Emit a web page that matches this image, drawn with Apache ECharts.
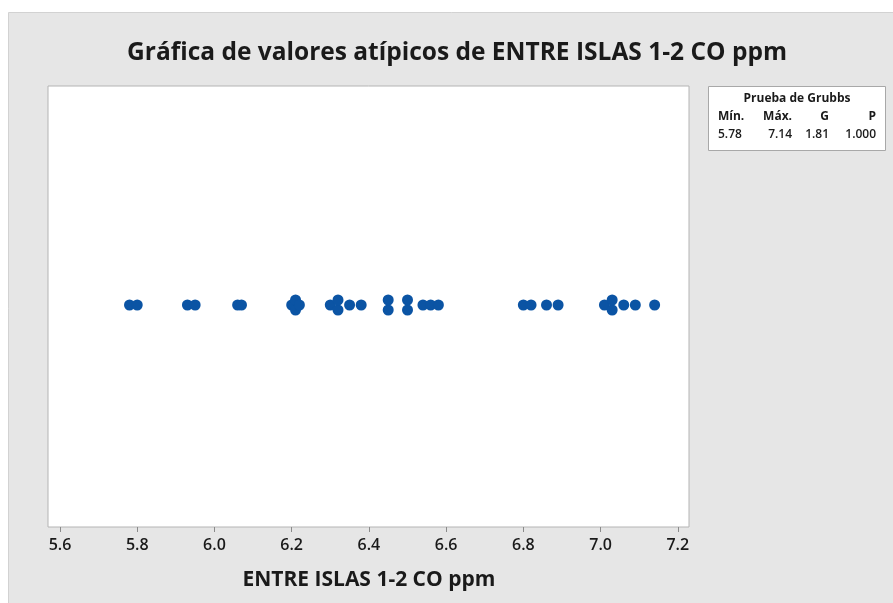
<!DOCTYPE html>
<html>
<head>
<meta charset="utf-8">
<script src="https://cdn.jsdelivr.net/npm/echarts@6/dist/echarts.min.js"></script>
<style>
html,body{margin:0;padding:0;background:#ffffff;}
#chart{width:893px;height:603px;}
</style>
</head>
<body>
<div id="chart"></div>
<script>
// ---- data ----
const chartTitle = 'Gráfica de valores atípicos de ENTRE ISLAS 1-2 CO ppm';
const axisName = 'ENTRE ISLAS 1-2 CO ppm';
const values = [5.78, 5.80, 5.93, 5.95, 6.06, 6.07, 6.20, 6.21, 6.21, 6.22,
  6.30, 6.32, 6.32, 6.35, 6.38, 6.45, 6.45, 6.50, 6.50, 6.54, 6.56, 6.58,
  6.80, 6.82, 6.86, 6.89, 7.01, 7.03, 7.03, 7.06, 7.09, 7.14];
const xTicks = [5.6, 5.8, 6.0, 6.2, 6.4, 6.6, 6.8, 7.0, 7.2];
const grubbsTitle = 'Prueba de Grubbs';
const grubbsHeaders = ['Mín.', 'Máx.', 'G', 'P'];
const grubbsValues = ['5.78', '7.14', '1.81', '1.000'];

// stack tied values vertically
const counts = {};
values.forEach(v => { counts[v] = (counts[v] || 0) + 1; });
const seen = {};
const points = values.map(v => {
  const n = counts[v];
  const k = seen[v] || 0;
  seen[v] = k + 1;
  return [v, k - (n - 1) / 2];
});

const FONT = '"Open Sans", "Noto Sans", sans-serif';
const chart = echarts.init(document.getElementById('chart'));

// legend table columns: [x, align]
const cols = [[718, 'left'], [792, 'right'], [829, 'right'], [876, 'right']];
const tableTexts = [];
grubbsHeaders.forEach((h, i) => tableTexts.push({
  type: 'text', x: cols[i][0], y: 117, z: 20,
  style: { text: h, font: 'bold 12px ' + FONT, fill: '#1a1a1a', textAlign: cols[i][1], textVerticalAlign: 'middle' }
}));
grubbsValues.forEach((h, i) => tableTexts.push({
  type: 'text', x: cols[i][0], y: 135, z: 20,
  style: { text: h, font: '600 12px ' + FONT, fill: '#1a1a1a', textAlign: cols[i][1], textVerticalAlign: 'middle' }
}));

chart.setOption({
  animation: false,
  backgroundColor: '#ffffff',
  graphic: [
    { type: 'rect', z: -10, shape: { x: 8.5, y: 12.5, width: 900, height: 600 },
      style: { fill: '#E6E6E6', stroke: '#D2D2D2', lineWidth: 1 } },
    { type: 'text', x: 457, y: 53, z: 20,
      style: { text: chartTitle, font: 'bold 24.5px ' + FONT, fill: '#1a1a1a', textAlign: 'center', textVerticalAlign: 'middle' } },
    { type: 'rect', z: 10, shape: { x: 708.5, y: 86.5, width: 177, height: 64 },
      style: { fill: '#ffffff', stroke: '#A8A8A8', lineWidth: 1 } },
    { type: 'text', x: 797, y: 99, z: 20,
      style: { text: grubbsTitle, font: 'bold 12px ' + FONT, fill: '#1a1a1a', textAlign: 'center', textVerticalAlign: 'middle' } },
    ...tableTexts
  ],
  grid: [
    { left: 48, top: 86, width: 641, height: 441, show: true, backgroundColor: '#ffffff', borderColor: '#B4B4B4', borderWidth: 1, z: 0 },
    { left: 60, top: 86, width: 617.8, height: 441 }
  ],
  xAxis: [
    { gridIndex: 0, type: 'value', show: false, min: 0, max: 1 },
    { gridIndex: 1, type: 'value', min: xTicks[0], max: xTicks[xTicks.length - 1], interval: 0.2,
      position: 'bottom',
      axisLine: { show: false, onZero: false },
      axisTick: { show: true, inside: false, length: 5, lineStyle: { color: '#8a8a8a' } },
      splitLine: { show: false },
      axisLabel: { margin: 10, fontFamily: FONT, fontSize: 16, fontWeight: 600, color: '#1a1a1a', formatter: v => v.toFixed(1) },
      name: axisName, nameLocation: 'middle', nameGap: 43,
      nameTextStyle: { fontFamily: FONT, fontSize: 21, fontWeight: 'bold', color: '#1a1a1a', padding: [0, 0, 0, 0] }
    }
  ],
  yAxis: [
    { gridIndex: 0, type: 'value', show: false, min: 0, max: 1 },
    { gridIndex: 1, type: 'value', show: false, min: -22.2, max: 21.9 }
  ],
  series: [{
    type: 'scatter', xAxisIndex: 1, yAxisIndex: 1,
    data: points, symbolSize: 11,
    itemStyle: { color: '#0B54A4', opacity: 1 },
    z: 5
  }]
});
</script>
</body>
</html>
